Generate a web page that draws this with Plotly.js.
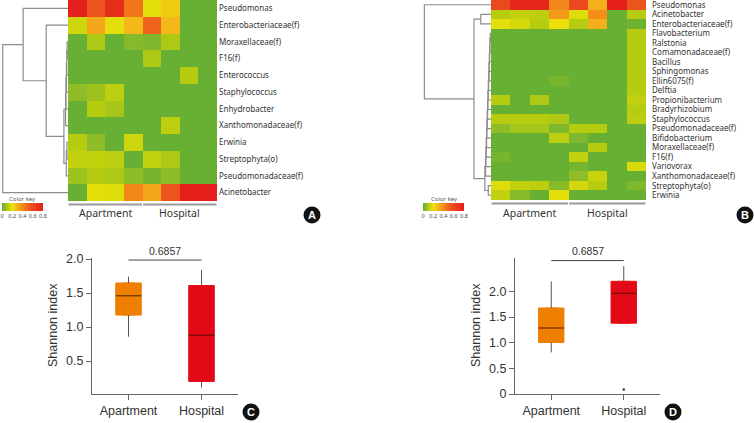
<!DOCTYPE html>
<html>
<head>
<meta charset="utf-8">
<script src="https://cdn.plot.ly/plotly-3.0.1.min.js"></script>
<style>html,body{margin:0;padding:0;background:#fff;}#chart{width:754px;height:423px;}</style>
</head>
<body>
<div id="chart"></div>
<script>
// ---------------- DATA ----------------
const sampleCols = [0, 1, 2, 3, 4, 5, 6, 7];
const groupNames = ['Apartment', 'Hospital'];
const groupSizes = [4, 4];

const rowsA = ['Pseudomonas', 'Enterobacteriaceae(f)', 'Moraxellaceae(f)', 'F16(f)', 'Enterococcus',
  'Staphylococcus', 'Enhydrobacter', 'Xanthomonadaceae(f)', 'Erwinia', 'Streptophyta(o)',
  'Pseudomonadaceae(f)', 'Acinetobacter'];
const zA = [
  [0.78, 0.55, 0.72, 0.45, 0.18, 0.24, 0, 0],
  [0.14, 0.32, 0.18, 0.28, 0.50, 0.28, 0, 0],
  [0, 0.09, 0, 0.04, 0.03, 0.09, 0, 0],
  [0, 0, 0, 0, 0.09, 0, 0, 0],
  [0, 0, 0, 0, 0, 0, 0.10, 0],
  [0.05, 0.07, 0.11, 0, 0, 0, 0, 0],
  [0, 0.10, 0.08, 0, 0, 0, 0, 0],
  [0, 0, 0, 0, 0, 0.11, 0, 0],
  [0.10, 0.05, 0, 0.14, 0, 0, 0, 0],
  [0.12, 0.12, 0.11, 0, 0.12, 0.09, 0, 0],
  [0.07, 0.10, 0.09, 0.05, 0.02, 0.05, 0, 0],
  [0, 0.18, 0.17, 0.40, 0.32, 0.55, 0.78, 0.78]
];

const rowsB = ['Pseudomonas', 'Acinetobacter', 'Enterobacteriaceae(f)', 'Flavobacterium', 'Ralstonia',
  'Comamonadaceae(f)', 'Bacillus', 'Sphingomonas', 'Ellin6075(f)', 'Delftia', 'Propionibacterium',
  'Bradyrhizobium', 'Staphylococcus', 'Pseudomonadaceae(f)', 'Bifidobacterium', 'Moraxellaceae(f)',
  'F16(f)', 'Variovorax', 'Xanthomonadaceae(f)', 'Streptophyta(o)', 'Erwinia'];
const zB = [
  [0.60, 0.75, 0.75, 0.40, 0.60, 0.30, 0.78, 0.55],
  [0.10, 0.12, 0.11, 0.35, 0.17, 0.38, 0, 0.10],
  [0.18, 0.15, 0.10, 0.20, 0.10, 0.30, 0, 0.01],
  [0, 0, 0, 0, 0, 0, 0, 0.10],
  [0, 0, 0, 0, 0, 0, 0, 0.10],
  [0, 0, 0, 0, 0, 0, 0, 0.10],
  [0, 0, 0, 0, 0, 0, 0, 0.10],
  [0, 0, 0, 0, 0, 0, 0, 0.10],
  [0, 0, 0, 0.02, 0, 0, 0, 0.10],
  [0, 0, 0, 0, 0, 0, 0, 0.10],
  [0.10, 0, 0.09, 0, 0, 0, 0, 0.12],
  [0, 0, 0, 0, 0, 0, 0, 0.10],
  [0.10, 0.10, 0.10, 0.09, 0, 0, 0, 0.11],
  [0.05, 0.08, 0.08, 0.03, 0.10, 0.10, 0, 0],
  [0, 0, 0, 0.11, 0.03, 0, 0, 0],
  [0, 0, 0, 0, 0, 0.10, 0, 0],
  [0.02, 0, 0, 0, 0.12, 0, 0, 0],
  [0, 0, 0, 0, 0.02, 0, 0, 0.16],
  [0, 0, 0, 0, 0.05, 0.13, 0, 0],
  [0.17, 0.12, 0.11, 0.04, 0.15, 0.10, 0, 0.03],
  [0.12, 0.04, 0, 0.18, 0, 0, 0, 0]
];

// dendrogram merges (scipy-style: leaves 0..n-1, merged node n+k)
const dendA_left   = [2, 12, 13, 14, 15, 8, 17, 16, 1, 0, 21];
const dendA_right  = [3, 4, 5, 6, 7, 9, 10, 18, 19, 20, 11];
const dendA_height = [0.012, 0.018, 0.024, 0.03, 0.036, 0.015, 0.025, 0.06, 0.32, 0.66, 0.96];

const dendB_left   = [3, 21, 22, 23, 24, 25, 26, 27, 28, 29, 30, 31, 32, 33, 34, 19, 35, 1, 38, 0];
const dendB_right  = [4, 5, 6, 7, 8, 9, 10, 11, 12, 13, 14, 15, 16, 17, 18, 20, 36, 2, 37, 39];
const dendB_height = [0.01, 0.015, 0.02, 0.025, 0.03, 0.035, 0.04, 0.045, 0.05, 0.055, 0.06, 0.065,
  0.07, 0.075, 0.08, 0.04, 0.09, 0.15, 0.25, 0.98];

const colorKeyTicks = [0, 0.2, 0.4, 0.6, 0.8];
const colorKeyLabels = ['0', '0.2', '0.4', '0.6', '0.8'];

// Shannon index boxes
const boxGroups = ['Apartment', 'Hospital'];
const c_q1 = [1.176, 0.20];
const c_median = [1.46, 0.88];
const c_q3 = [1.647, 1.61];
const c_lower = [0.857, 0.11];
const c_upper = [1.74, 1.84];
const c_pvalue = '0.6857';
const c_bracket = 1.985;

const d_q1 = [1.005, 1.38];
const d_median = [1.286, 1.96];
const d_q3 = [1.675, 2.195];
const d_lower = [0.81, 1.38];
const d_upper = [2.195, 2.49];
const d_outlierGroup = [1];
const d_outlierValue = [0.09];
const d_pvalue = '0.6857';
const d_bracket = 2.60;

// ---------------- STYLE ----------------
const W = 754, H = 423;
const px = v => v / W;
const py = v => 1 - v / H;
const heatScale = [[0, 'rgb(104,176,52)'], [0.06, 'rgb(140,188,40)'], [0.13, 'rgb(185,205,15)'],
  [0.24, 'rgb(235,225,10)'], [0.36, 'rgb(246,180,28)'], [0.48, 'rgb(243,140,25)'],
  [0.68, 'rgb(236,85,30)'], [1, 'rgb(228,28,28)']];
const boxFill = ['#ef7f00', '#e30a17'];
const medianCol = ['#7a3d00', '#7d0a0a'];
const labFont = 'Noto Sans, DejaVu Sans, sans-serif';
const plotFont = 'Liberation Sans, Arial, sans-serif';

function dendro(n, L, R, Hh) {
  const ys = [], hs = [];
  for (let i = 0; i < n; i++) { ys[i] = i; hs[i] = 0; }
  const X = [], Y = [];
  for (let k = 0; k < L.length; k++) {
    const a = L[k], b = R[k], h = Hh[k];
    X.push(hs[a], h, h, hs[b], null);
    Y.push(ys[a], ys[a], ys[b], ys[b], null);
    ys[n + k] = (ys[a] + ys[b]) / 2; hs[n + k] = h;
  }
  return { X, Y };
}
const dA = dendro(rowsA.length, dendA_left, dendA_right, dendA_height);
const dB = dendro(rowsB.length, dendB_left, dendB_right, dendB_height);

const traces = [];
traces.push({ type: 'heatmap', z: zA, x: sampleCols, y: rowsA.map((r, i) => i), colorscale: heatScale,
  zmin: 0, zmax: 0.8, showscale: false, xaxis: 'x', yaxis: 'y', hoverinfo: 'skip' });
traces.push({ type: 'scatter', mode: 'lines', x: dA.X, y: dA.Y, xaxis: 'x2', yaxis: 'y',
  line: { color: '#8c8c8c', width: 1.2 }, hoverinfo: 'skip', cliponaxis: false });
traces.push({ type: 'heatmap', z: zB, x: sampleCols, y: rowsB.map((r, i) => i), colorscale: heatScale,
  zmin: 0, zmax: 0.8, showscale: false, xaxis: 'x3', yaxis: 'y2', hoverinfo: 'skip' });
traces.push({ type: 'scatter', mode: 'lines', x: dB.X, y: dB.Y, xaxis: 'x4', yaxis: 'y2',
  line: { color: '#8c8c8c', width: 1.2 }, hoverinfo: 'skip', cliponaxis: false });
// colour keys
const keyEnds = [colorKeyTicks[0], colorKeyTicks[colorKeyTicks.length - 1]];
[['x5', 'y3'], ['x6', 'y4']].forEach(([xa, ya]) => {
  traces.push({ type: 'heatmap', z: [keyEnds, keyEnds], x: keyEnds, y: [0, 1], zsmooth: 'best',
    colorscale: heatScale, zmin: 0, zmax: 0.8, showscale: false, xaxis: xa, yaxis: ya, hoverinfo: 'skip' });
});

function addBoxes(xa, ya, q1, med, q3, lo, hi) {
  boxGroups.forEach((g, i) => {
    traces.push({ type: 'box', x: [i], q1: [q1[i]], median: [med[i]], q3: [q3[i]],
      lowerfence: [q1[i]], upperfence: [q3[i]], width: 0.35, fillcolor: boxFill[i],
      line: { color: boxFill[i], width: 1 }, boxpoints: false, xaxis: xa, yaxis: ya, hoverinfo: 'skip' });
    traces.push({ type: 'scatter', mode: 'lines', x: [i, i, null, i, i], y: [lo[i], q1[i], null, q3[i], hi[i]],
      line: { color: '#555', width: 1 }, xaxis: xa, yaxis: ya, hoverinfo: 'skip' });
    traces.push({ type: 'scatter', mode: 'lines', x: [i - 0.175, i + 0.175], y: [med[i], med[i]],
      line: { color: medianCol[i], width: 1.4 }, xaxis: xa, yaxis: ya, hoverinfo: 'skip' });
  });
}
addBoxes('x7', 'y5', c_q1, c_median, c_q3, c_lower, c_upper);
addBoxes('x8', 'y6', d_q1, d_median, d_q3, d_lower, d_upper);
traces.push({ type: 'scatter', mode: 'markers', x: d_outlierGroup, y: d_outlierValue, xaxis: 'x8', yaxis: 'y6',
  marker: { color: '#333', size: 2.5 }, hoverinfo: 'skip' });

const hide = { visible: false, showgrid: false, zeroline: false, fixedrange: true };
const heatX = (dom, anchor) => ({ domain: dom, anchor, range: [-0.5, 7.5], showticklabels: false,
  ticks: '', showgrid: false, zeroline: false, showline: false });
const heatY = (dom, anchor, rows, gap) => ({ domain: dom, anchor, side: 'right', range: [rows.length - 0.5, -0.5],
  tickmode: 'array', tickvals: rows.map((r, i) => i), ticktext: rows, ticks: '', showgrid: false, zeroline: false,
  ticklabeloverflow: 'allow', ticklabelstandoff: gap, tickfont: { family: labFont, size: 8, color: '#333' } });
const boxAxX = dom => ({ domain: dom, range: [-0.5, 1.5], tickvals: [0, 1], ticktext: boxGroups,
  showline: true, linecolor: '#666', linewidth: 1, ticks: 'outside', ticklen: 5, tickcolor: '#666',
  showgrid: false, zeroline: false, tickfont: { family: plotFont, size: 12.5, color: '#333' } });
const boxAxY = (dom, range, tv, tt) => ({ domain: dom, range, tickvals: tv, ticktext: tt,
  showline: true, linecolor: '#666', linewidth: 1, ticks: 'outside', ticklen: 5, tickcolor: '#666',
  showgrid: false, zeroline: false, tickfont: { family: plotFont, size: 12.5, color: '#333' } });

const layout = {
  width: W, height: H, margin: { l: 0, r: 0, t: 0, b: 0 }, showlegend: false,
  paper_bgcolor: '#fff', plot_bgcolor: 'rgba(0,0,0,0)',
  xaxis: heatX([px(68), px(217)], 'y'),
  yaxis: heatY([py(201), 1], 'x', rowsA, 1),
  xaxis2: Object.assign({ domain: [0, px(68)], anchor: 'y', range: [1, 0] }, hide),
  xaxis3: heatX([px(491), px(646)], 'y2'),
  yaxis2: heatY([py(200), 1], 'x3', rowsB, 5),
  xaxis4: Object.assign({ domain: [px(423), px(491)], anchor: 'y2', range: [1, 0] }, hide),
  xaxis5: { domain: [px(2), px(43)], anchor: 'y3', range: keyEnds, tickvals: colorKeyTicks, ticktext: colorKeyLabels,
    ticks: '', showgrid: false, zeroline: false, tickfont: { family: labFont, size: 5.5, color: '#444' } },
  yaxis3: Object.assign({ domain: [py(211), py(203)], anchor: 'x5', range: [0, 1] }, hide),
  xaxis6: { domain: [px(423), px(464)], anchor: 'y4', range: keyEnds, tickvals: colorKeyTicks, ticktext: colorKeyLabels,
    ticks: '', showgrid: false, zeroline: false, tickfont: { family: labFont, size: 5.5, color: '#444' } },
  yaxis4: Object.assign({ domain: [py(211), py(203)], anchor: 'x6', range: [0, 1] }, hide),
  xaxis7: Object.assign(boxAxX([px(92), px(238)]), { anchor: 'y5' }),
  yaxis5: Object.assign(boxAxY([py(394), py(258)], [0.015, 2.015], [0.5, 1, 1.5, 2], ['0.5', '1.0', '1.5', '2.0']), { anchor: 'x7' }),
  xaxis8: Object.assign(boxAxX([px(515), px(660)]), { anchor: 'y6' }),
  yaxis6: Object.assign(boxAxY([py(394), py(258)], [0, 2.65], [0, 0.5, 1, 1.5, 2], ['0', '0.5', '1.0', '1.5', '2.0']), { anchor: 'x8' }),
  shapes: [], annotations: []
};

const ann = o => layout.annotations.push(Object.assign({ showarrow: false, xanchor: 'center', yanchor: 'middle' }, o));

// group bars + labels under heatmaps
[['x', 204.5], ['x3', 203.5]].forEach(([xa, yb]) => {
  let start = 0;
  groupNames.forEach((g, gi) => {
    const n = groupSizes[gi];
    layout.shapes.push({ type: 'line', xref: xa, yref: 'paper', x0: start - 0.47, x1: start + n - 0.53,
      y0: py(yb), y1: py(yb), line: { color: '#9a9a9a', width: 2 } });
    ann({ xref: xa, yref: 'paper', x: start + (n - 1) / 2, y: py(213), text: g,
      font: { family: labFont, size: 10.5, color: '#333' } });
    start += n;
  });
});
// colour key titles
[22, 444].forEach(cx => ann({ xref: 'paper', yref: 'paper', x: px(cx), y: py(199),
  text: 'Color key', font: { family: labFont, size: 6, color: '#555' } }));

// brackets + p values
[['x7', 'y5', c_bracket, c_pvalue], ['x8', 'y6', d_bracket, d_pvalue]].forEach(([xa, ya, yb, p]) => {
  layout.shapes.push({ type: 'line', xref: xa, yref: ya, x0: 0, x1: 1, y0: yb, y1: yb, line: { color: '#444', width: 1 } });
  ann({ xref: xa, yref: 'paper', x: 0.5, y: py(251), text: p, font: { family: plotFont, size: 10.5, color: '#333' } });
});
// y titles
[53, 476].forEach(cx => ann({ xref: 'paper', yref: 'paper', x: px(cx), y: py(325),
  text: 'Shannon index', textangle: -90, font: { family: plotFont, size: 12.5, color: '#333' } }));

// panel letters
[['A', 312, 215], ['B', 745, 215], ['C', 251, 412], ['D', 673, 412]].forEach(([t, cx, cy]) => {
  const r = 8.5;
  layout.shapes.push({ type: 'circle', xref: 'paper', yref: 'paper', x0: px(cx - r), x1: px(cx + r),
    y0: py(cy + r), y1: py(cy - r), fillcolor: '#111', line: { color: '#111', width: 0 } });
  ann({ xref: 'paper', yref: 'paper', x: px(cx), y: py(cy), text: '<b>' + t + '</b>',
    font: { family: plotFont, size: 11, color: '#fff' } });
});

Plotly.newPlot('chart', traces, layout, { staticPlot: true, displayModeBar: false });
</script>
</body>
</html>
